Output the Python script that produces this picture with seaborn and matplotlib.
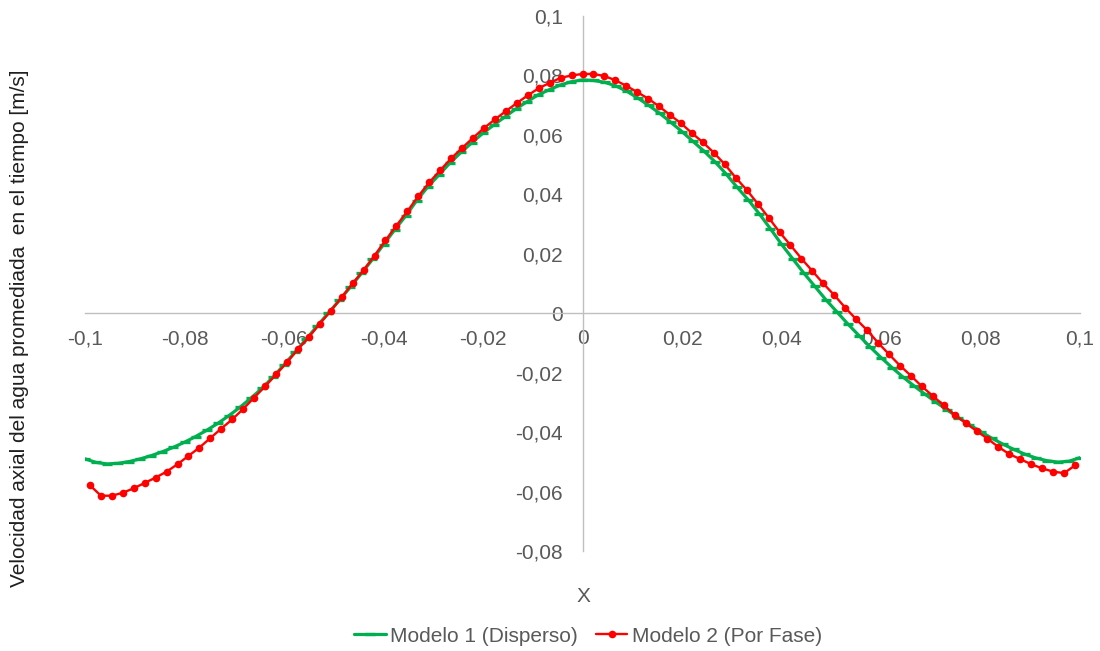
import matplotlib
matplotlib.use("Agg")
import matplotlib.pyplot as plt
import seaborn as sns
import pandas as pd

# ---- data -------------------------------------------------------------
# Modelo 1 (Disperso)
x_modelo1 = [
    -0.1, -0.09778, -0.09556, -0.09333, -0.09111, -0.08889, -0.08667, -0.08444, -0.08222, -0.08,
    -0.07778, -0.07556, -0.07333, -0.07111, -0.06889, -0.06667, -0.06444, -0.06222, -0.06, -0.05778,
    -0.05556, -0.05333, -0.05111, -0.04889, -0.04667, -0.04444, -0.04222, -0.04, -0.03778, -0.03556,
    -0.03333, -0.03111, -0.02889, -0.02667, -0.02444, -0.02222, -0.02, -0.01778, -0.01556, -0.01333,
    -0.01111, -0.00889, -0.00667, -0.00444, -0.00222, 0.0, 0.00222, 0.00444, 0.00667, 0.00889,
    0.01111, 0.01333, 0.01556, 0.01778, 0.02, 0.02222, 0.02444, 0.02667, 0.02889, 0.03111,
    0.03333, 0.03556, 0.03778, 0.04, 0.04222, 0.04444, 0.04667, 0.04889, 0.05111, 0.05333,
    0.05556, 0.05778, 0.06, 0.06222, 0.06444, 0.06667, 0.06889, 0.07111, 0.07333, 0.07556,
    0.07778, 0.08, 0.08222, 0.08444, 0.08667, 0.08889, 0.09111, 0.09333, 0.09556, 0.09778,
    0.1,
]
y_modelo1 = [
    -0.0490, -0.0502, -0.0507, -0.0505, -0.0499, -0.0490, -0.0479, -0.0466, -0.0451, -0.0434,
    -0.0415, -0.0394, -0.0371, -0.0345, -0.0317, -0.0286, -0.0253, -0.0215, -0.0174, -0.0131,
    -0.0088, -0.0043, 0.0000, 0.0043, 0.0088, 0.0134, 0.0181, 0.0231, 0.0280, 0.0327,
    0.0379, 0.0425, 0.0465, 0.0505, 0.0541, 0.0574, 0.0606, 0.0634, 0.0661, 0.0688,
    0.0712, 0.0735, 0.0752, 0.0768, 0.0779, 0.0785, 0.0783, 0.0777, 0.0765, 0.0747,
    0.0724, 0.0699, 0.0672, 0.0642, 0.0611, 0.0578, 0.0545, 0.0509, 0.0468, 0.0423,
    0.0381, 0.0334, 0.0284, 0.0232, 0.0184, 0.0136, 0.0091, 0.0046, 0.0005, -0.0036,
    -0.0075, -0.0113, -0.0149, -0.0183, -0.0215, -0.0245, -0.0273, -0.0300, -0.0326, -0.0351,
    -0.0375, -0.0398, -0.0420, -0.0440, -0.0458, -0.0474, -0.0487, -0.0496, -0.0501, -0.0498,
    -0.0486,
]

# Modelo 2 (Por Fase)
x_modelo2 = [
    -0.099, -0.0968, -0.0946, -0.0924, -0.0902, -0.088, -0.0858, -0.0836, -0.0814, -0.0792,
    -0.077, -0.0748, -0.0726, -0.0704, -0.0682, -0.066, -0.0638, -0.0616, -0.0594, -0.0572,
    -0.055, -0.0528, -0.0506, -0.0484, -0.0462, -0.044, -0.0418, -0.0396, -0.0374, -0.0352,
    -0.033, -0.0308, -0.0286, -0.0264, -0.0242, -0.022, -0.0198, -0.0176, -0.0154, -0.0132,
    -0.011, -0.0088, -0.0066, -0.0044, -0.0022, 0.0, 0.0022, 0.0044, 0.0066, 0.0088,
    0.011, 0.0132, 0.0154, 0.0176, 0.0198, 0.022, 0.0242, 0.0264, 0.0286, 0.0308,
    0.033, 0.0352, 0.0374, 0.0396, 0.0418, 0.044, 0.0462, 0.0484, 0.0506, 0.0528,
    0.055, 0.0572, 0.0594, 0.0616, 0.0638, 0.066, 0.0682, 0.0704, 0.0726, 0.0748,
    0.077, 0.0792, 0.0814, 0.0836, 0.0858, 0.088, 0.0902, 0.0924, 0.0946, 0.0968,
    0.099,
]
y_modelo2 = [
    -0.0579, -0.0614, -0.0614, -0.0604, -0.0589, -0.0571, -0.0553, -0.0533, -0.0508, -0.0480,
    -0.0452, -0.0420, -0.0388, -0.0357, -0.0322, -0.0284, -0.0246, -0.0206, -0.0165, -0.0121,
    -0.0080, -0.0035, 0.0008, 0.0054, 0.0100, 0.0145, 0.0194, 0.0245, 0.0295, 0.0343,
    0.0394, 0.0440, 0.0481, 0.0521, 0.0556, 0.0590, 0.0623, 0.0652, 0.0680, 0.0707,
    0.0733, 0.0757, 0.0775, 0.0792, 0.0800, 0.0805, 0.0805, 0.0798, 0.0784, 0.0765,
    0.0744, 0.0722, 0.0696, 0.0667, 0.0639, 0.0606, 0.0575, 0.0540, 0.0501, 0.0456,
    0.0415, 0.0369, 0.0322, 0.0273, 0.0229, 0.0184, 0.0142, 0.0100, 0.0061, 0.0019,
    -0.0020, -0.0057, -0.0099, -0.0138, -0.0176, -0.0210, -0.0246, -0.0278, -0.0310, -0.0342,
    -0.0369, -0.0396, -0.0422, -0.0450, -0.0474, -0.0491, -0.0508, -0.0522, -0.0533, -0.0538,
    -0.0512,
]

series_names = ["Modelo 1 (Disperso)", "Modelo 2 (Por Fase)"]

x_ticks = [-0.1, -0.08, -0.06, -0.04, -0.02, 0.0, 0.02, 0.04, 0.06, 0.08, 0.1]
x_tick_labels = ["-0,1", "-0,08", "-0,06", "-0,04", "-0,02", "0", "0,02", "0,04", "0,06", "0,08", "0,1"]
y_ticks = [-0.08, -0.06, -0.04, -0.02, 0.0, 0.02, 0.04, 0.06, 0.08, 0.1]
y_tick_labels = ["-0,08", "-0,06", "-0,04", "-0,02", "0", "0,02", "0,04", "0,06", "0,08", "0,1"]

x_title = "X"
y_title = "Velocidad axial del agua promediada  en el tiempo [m/s]"

# ---- style ------------------------------------------------------------
sns.set_theme(style="white")
plt.rcParams["font.family"] = ["Liberation Sans", "DejaVu Sans"]

GREEN = "#00B050"
RED = "#FF0000"
AXIS = "#BFBFBF"
TEXT = "#595959"

W, H = 1100, 651
fig = plt.figure(figsize=(W / 100, H / 100), dpi=100)
fig.patch.set_facecolor("white")
ax = fig.add_axes([85 / W, 1 - 551 / H, 995 / W, 535 / H])

df1 = pd.DataFrame({"x": x_modelo1, "y": y_modelo1})
df2 = pd.DataFrame({"x": x_modelo2, "y": y_modelo2})

sns.lineplot(data=df1, x="x", y="y", ax=ax, sort=False, color=GREEN,
             linewidth=2.3, marker="_", markersize=7, markeredgewidth=2.4,
             markeredgecolor=GREEN, label=series_names[0], zorder=3)
sns.lineplot(data=df2, x="x", y="y", ax=ax, sort=False, color=RED,
             linewidth=1.7, marker="o", markersize=5.5, markeredgewidth=0,
             markerfacecolor=RED, label=series_names[1], zorder=4)

ax.set_xlim(-0.1, 0.1)
ax.set_ylim(-0.08, 0.1)

# axes crossing at the origin
for side in ("top", "right"):
    ax.spines[side].set_visible(False)
ax.spines["left"].set_position(("data", 0))
ax.spines["bottom"].set_position(("data", 0))
for side in ("left", "bottom"):
    ax.spines[side].set_color(AXIS)
    ax.spines[side].set_linewidth(1.0)

ax.set_xticks(x_ticks)
ax.set_xticklabels(x_tick_labels)
ax.set_yticks(y_ticks)
ax.set_yticklabels(y_tick_labels)
ax.tick_params(axis="both", length=0, labelsize=15, labelcolor=TEXT)
ax.tick_params(axis="x", pad=11.5)
ax.tick_params(axis="y", pad=14)
ax.set_xlabel("")
ax.set_ylabel("")
ax.grid(False)

fig.text(583 / W, 1 - 597 / H, x_title, ha="center", va="center",
         fontsize=15, color=TEXT)
fig.text(20 / W, 1 - 328 / H, y_title, ha="center", va="center",
         rotation=90, fontsize=15, color="#1F1F1F")

handles, labels = ax.get_legend_handles_labels()
if ax.get_legend() is not None:
    ax.get_legend().remove()
fig.legend(handles, labels, loc="center", bbox_to_anchor=(588 / W, 1 - 636 / H),
           ncol=2, frameon=False, fontsize=15, labelcolor=TEXT,
           handlelength=1.5, handletextpad=0.2, columnspacing=0.9)

fig.savefig("out.png", dpi=100, facecolor="white")
